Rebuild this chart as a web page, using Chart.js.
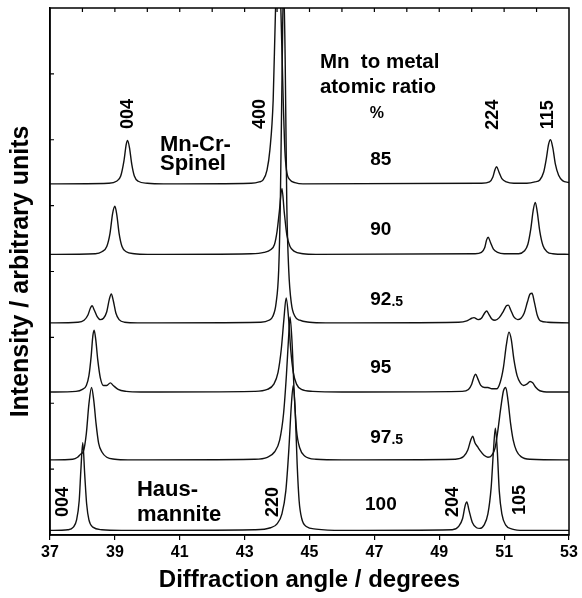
<!DOCTYPE html>
<html>
<head>
<meta charset="utf-8">
<script src="https://cdn.jsdelivr.net/npm/chart.js@4.4.0/dist/chart.umd.min.js"></script>
<style>
  html, body { margin: 0; padding: 0; background: #fff; }
  canvas { display: block; }
</style>
</head>
<body>
<canvas id="xrd" width="582" height="598"></canvas>
<script>
// Mn to metal atomic ratio (%) of each pattern, top to bottom
var ratios = ['85', '90', '92.5', '95', '97.5', '100'];
// vertical offset of each pattern (stacking)
var offsets = [5.33, 4.26, 3.22, 2.17, 1.14, 0.07];

// [2theta, intensity above own baseline]
var trace85 = [[37, 0], [38.8, 0.01], [39.05, 0.04], [39.18, 0.12], [39.28, 0.35], [39.35, 0.6], [39.39, 0.66], [39.45, 0.55], [39.52, 0.3], [39.6, 0.12], [39.72, 0.04], [40.0, 0.01], [40.5, 0],
  [43.2, 0.01], [43.45, 0.03], [43.57, 0.06], [43.69, 0.21], [43.78, 0.52], [43.88, 1.27], [43.95, 2.6], [44.04, 3.8], [44.12, 2.6], [44.19, 1.27], [44.24, 0.52], [44.29, 0.21], [44.4, 0.06], [44.55, 0.02], [44.8, 0],
  [50.3, 0.01], [50.55, 0.03], [50.65, 0.1], [50.72, 0.22], [50.77, 0.26], [50.84, 0.18], [50.93, 0.08], [51.07, 0.03], [51.3, 0.01],
  [51.7, 0.01], [51.95, 0.03], [52.1, 0.06], [52.22, 0.18], [52.3, 0.38], [52.37, 0.6], [52.43, 0.67], [52.5, 0.55], [52.58, 0.3], [52.68, 0.13], [52.8, 0.05], [53, 0.02]];

var trace90 = [[37, 0], [38.4, 0.01], [38.6, 0.04], [38.75, 0.12], [38.85, 0.32], [38.93, 0.62], [39.0, 0.73], [39.06, 0.6], [39.13, 0.32], [39.22, 0.12], [39.35, 0.04], [39.6, 0.01], [40, 0],
  [43.2, 0.01], [43.6, 0.03], [43.8, 0.07], [43.92, 0.15], [44.0, 0.35], [44.07, 0.65], [44.15, 1.0], [44.22, 0.65], [44.3, 0.3], [44.4, 0.12], [44.52, 0.05], [44.8, 0.01], [45.2, 0],
  [50.1, 0.01], [50.3, 0.03], [50.4, 0.1], [50.46, 0.22], [50.51, 0.26], [50.58, 0.18], [50.67, 0.08], [50.8, 0.03], [51.0, 0.01],
  [51.45, 0.01], [51.62, 0.05], [51.73, 0.15], [51.82, 0.38], [51.9, 0.68], [51.96, 0.79], [52.02, 0.65], [52.1, 0.35], [52.2, 0.13], [52.32, 0.04], [52.5, 0.01], [53, 0]];

var trace925 = [[37, 0], [37.85, 0.01], [38.05, 0.04], [38.17, 0.12], [38.25, 0.23], [38.3, 0.26], [38.36, 0.2], [38.45, 0.1], [38.55, 0.05], [38.65, 0.07], [38.75, 0.17], [38.83, 0.36], [38.89, 0.44], [38.95, 0.34], [39.03, 0.15], [39.13, 0.05], [39.3, 0.01], [39.7, 0],
  [43.5, 0.01], [43.75, 0.04], [43.87, 0.1], [43.97, 0.3], [44.05, 0.8], [44.1, 1.8], [44.16, 4.0], [44.2, 5.2], [44.25, 4.0], [44.3, 1.8], [44.36, 0.8], [44.44, 0.3], [44.55, 0.1], [44.7, 0.04], [45.0, 0.01], [45.5, 0],
  [49.6, 0.01], [49.85, 0.03], [50.0, 0.07], [50.07, 0.08], [50.2, 0.05], [50.3, 0.07], [50.4, 0.15], [50.46, 0.18], [50.53, 0.13], [50.62, 0.06], [50.72, 0.04], [50.85, 0.08], [50.98, 0.18], [51.07, 0.26], [51.13, 0.27], [51.2, 0.2], [51.3, 0.09], [51.42, 0.05],
  [51.52, 0.07], [51.62, 0.15], [51.72, 0.32], [51.8, 0.44], [51.86, 0.45], [51.93, 0.32], [52.02, 0.12], [52.12, 0.03], [52.35, 0.01], [53, 0]];

var trace95 = [[37, 0], [37.8, 0.01], [38.0, 0.04], [38.12, 0.1], [38.2, 0.25], [38.27, 0.55], [38.32, 0.85], [38.36, 0.94], [38.41, 0.8], [38.47, 0.5], [38.55, 0.22], [38.65, 0.1], [38.75, 0.1], [38.86, 0.14], [38.95, 0.1], [39.1, 0.04], [39.35, 0.01], [39.8, 0],
  [43.3, 0.01], [43.7, 0.04], [43.9, 0.12], [44.03, 0.3], [44.13, 0.65], [44.21, 1.1], [44.28, 1.43], [44.35, 1.15], [44.42, 0.65], [44.5, 0.3], [44.6, 0.12], [44.75, 0.04], [45.1, 0.01], [46, 0],
  [49.7, 0.01], [49.9, 0.04], [50.0, 0.12], [50.07, 0.23], [50.12, 0.27], [50.19, 0.2], [50.28, 0.1], [50.4, 0.07], [50.5, 0.07], [50.62, 0.05], [50.77, 0.05], [50.88, 0.15], [50.98, 0.38], [51.07, 0.72], [51.15, 0.91], [51.22, 0.8], [51.3, 0.5], [51.4, 0.25],
  [51.5, 0.14], [51.6, 0.1], [51.7, 0.12], [51.8, 0.16], [51.88, 0.14], [51.98, 0.07], [52.1, 0.02], [52.4, 0], [53, 0]];

var trace975 = [[37, 0], [37.7, 0.01], [37.85, 0.04], [37.95, 0.09], [38.03, 0.13], [38.12, 0.4], [38.2, 0.85], [38.28, 1.1], [38.35, 0.9], [38.42, 0.55], [38.5, 0.25], [38.6, 0.12], [38.75, 0.04], [39.0, 0.01], [39.4, 0],
  [43.3, 0.01], [43.7, 0.04], [43.92, 0.12], [44.08, 0.3], [44.2, 0.7], [44.29, 1.3], [44.36, 1.9], [44.4, 2.17], [44.46, 1.8], [44.53, 1.0], [44.6, 0.45], [44.7, 0.18], [44.85, 0.06], [45.2, 0.01], [46, 0],
  [49.5, 0.01], [49.75, 0.05], [49.88, 0.15], [49.97, 0.3], [50.03, 0.36], [50.1, 0.26], [50.18, 0.2], [50.26, 0.14], [50.38, 0.07], [50.5, 0.04], [50.62, 0.07], [50.72, 0.18], [50.8, 0.42], [50.9, 0.8], [50.98, 1.05], [51.05, 1.1], [51.12, 0.9], [51.2, 0.55], [51.28, 0.3],
  [51.38, 0.14], [51.52, 0.05], [51.8, 0.01], [53, 0]];

var trace100 = [[37, 0], [37.55, 0.01], [37.72, 0.05], [37.82, 0.16], [37.9, 0.45], [37.95, 0.9], [38.01, 1.33], [38.07, 0.85], [38.13, 0.4], [38.2, 0.16], [38.32, 0.05], [38.6, 0.01], [39.2, 0],
  [43.3, 0.01], [43.8, 0.04], [44.0, 0.1], [44.15, 0.25], [44.27, 0.6], [44.36, 1.2], [44.44, 1.9], [44.5, 2.2], [44.56, 1.8], [44.62, 1.0], [44.68, 0.45], [44.76, 0.18], [44.9, 0.06], [45.2, 0.02], [46.0, 0],
  [49.4, 0.01], [49.6, 0.06], [49.72, 0.18], [49.8, 0.38], [49.85, 0.43], [49.92, 0.3], [50.02, 0.12], [50.15, 0.04], [50.25, 0.03], [50.38, 0.08], [50.5, 0.25], [50.6, 0.65], [50.67, 1.2], [50.73, 1.55], [50.79, 1.2], [50.85, 0.6], [50.93, 0.25],
  [51.05, 0.08], [51.25, 0.02], [51.6, 0], [53, 0]];

var traces = [trace85, trace90, trace925, trace95, trace975, trace100];

var xTicks = [37, 39, 41, 43, 45, 47, 49, 51, 53];
var topTicks = [38, 39, 40, 41, 42, 43, 44, 45, 46, 47, 48, 49, 50, 51, 52];
var yTicks = [1, 2, 3, 4, 5, 6, 7];

// reflection labels (written vertically) and where they sit, in data units
var hklText = ['004', '400', '224', '115', '004', '220', '204', '105'];
var hklX = [39.40, 43.47, 50.66, 52.35, 37.40, 43.87, 49.42, 51.49];
var hklY = [6.39, 6.39, 6.38, 6.38, 0.50, 0.50, 0.50, 0.53];

// ratio label next to each pattern
var ratioX = 47.2;
var ratioY = [5.69, 4.63, 3.57, 2.54, 1.47, 0.46];

var family = '"Liberation Sans", Arial, Helvetica, sans-serif';
Chart.defaults.font.family = family;
Chart.defaults.color = '#000';

var datasets = traces.map(function(t, i) {
  return {
    label: ratios[i] + ' %',
    data: t.map(function(p) { return {x: p[0], y: p[1] + offsets[i]}; }),
    borderColor: '#111',
    borderWidth: 1.4,
    pointRadius: 0,
    fill: false,
    cubicInterpolationMode: 'monotone'
  };
});

var decorations = {
  id: 'decorations',
  afterDraw: function(chart) {
    var c = chart.ctx, a = chart.chartArea, sx = chart.scales.x, sy = chart.scales.y;
    c.save();
    c.strokeStyle = '#000';
    c.lineWidth = 1.5;
    c.strokeRect(a.left, a.top, a.right - a.left, a.bottom - a.top);

    // inward ticks on left and top
    c.lineWidth = 1.2;
    c.beginPath();
    yTicks.forEach(function(v) {
      var py = sy.getPixelForValue(v);
      c.moveTo(a.left, py); c.lineTo(a.left + 4, py);
    });
    topTicks.forEach(function(v) {
      var px = sx.getPixelForValue(v);
      c.moveTo(px, a.top); c.lineTo(px, a.top + 4);
    });
    c.stroke();

    c.fillStyle = '#000';
    c.textAlign = 'center';
    c.textBaseline = 'middle';

    // hkl labels
    c.font = 'bold 18px ' + family;
    hklText.forEach(function(t, i) {
      c.save();
      c.translate(sx.getPixelForValue(hklX[i]), sy.getPixelForValue(hklY[i]));
      c.rotate(-Math.PI / 2);
      c.fillText(t, 0, 0);
      c.restore();
    });

    // ratio labels, decimal part smaller
    var cx = sx.getPixelForValue(ratioX);
    ratios.forEach(function(r, i) {
      var py = sy.getPixelForValue(ratioY[i]);
      var parts = r.split('.');
      c.font = 'bold 19px ' + family;
      c.textAlign = 'center';
      c.fillText(parts[0], cx, py);
      if (parts.length > 1) {
        var w = c.measureText(parts[0]).width;
        c.font = 'bold 14px ' + family;
        c.textAlign = 'left';
        c.fillText('.' + parts[1], cx + w / 2, py + 2);
      }
    });

    // text blocks
    c.textAlign = 'left';
    c.font = 'bold 22px ' + family;
    c.fillText('Mn-Cr-', sx.getPixelForValue(40.39), sy.getPixelForValue(5.92));
    c.fillText('Spinel', sx.getPixelForValue(40.39), sy.getPixelForValue(5.63));
    c.fillText('Haus-', sx.getPixelForValue(39.68), sy.getPixelForValue(0.68));
    c.fillText('mannite', sx.getPixelForValue(39.68), sy.getPixelForValue(0.30));
    c.font = 'bold 20.5px ' + family;
    c.fillText('Mn  to metal', sx.getPixelForValue(45.32), sy.getPixelForValue(7.17));
    c.fillText('atomic ratio', sx.getPixelForValue(45.32), sy.getPixelForValue(6.80));
    c.textAlign = 'center';
    c.font = 'bold 16px ' + family;
    c.fillText('%', sx.getPixelForValue(47.08), sy.getPixelForValue(6.40));
    c.restore();
  }
};

new Chart(document.getElementById('xrd'), {
  type: 'line',
  data: { datasets: datasets },
  options: {
    responsive: false,
    animation: false,
    events: [],
    layout: { padding: { top: 8, right: 13, left: 0, bottom: 0 } },
    plugins: { legend: { display: false }, tooltip: { enabled: false } },
    scales: {
      x: {
        type: 'linear',
        min: 37,
        max: 53,
        afterBuildTicks: function(scale) {
          scale.ticks = xTicks.map(function(v) { return {value: v}; });
        },
        afterFit: function(scale) { scale.height = 63; },
        ticks: {
          autoSkip: false,
          maxRotation: 0,
          padding: 3,
          color: '#000',
          font: { size: 16, weight: 'bold' },
          callback: function(v) { return String(v); }
        },
        grid: { drawOnChartArea: false, color: '#000', lineWidth: 1.2, tickLength: 5 },
        border: { color: '#000', width: 1.5 },
        title: {
          display: true,
          text: 'Diffraction angle / degrees',
          color: '#000',
          font: { size: 24, weight: 'bold' },
          padding: { top: 0, bottom: 3 }
        }
      },
      y: {
        type: 'linear',
        min: 0,
        max: 8,
        afterFit: function(scale) { scale.width = 50; },
        ticks: { display: false, stepSize: 1 },
        grid: { display: false },
        border: { color: '#000', width: 1.5 },
        title: {
          display: true,
          text: 'Intensity / arbitrary units',
          color: '#000',
          font: { size: 25, weight: 'bold' },
          padding: { top: 6, bottom: 0 }
        }
      }
    }
  },
  plugins: [decorations]
});
</script>
</body>
</html>
